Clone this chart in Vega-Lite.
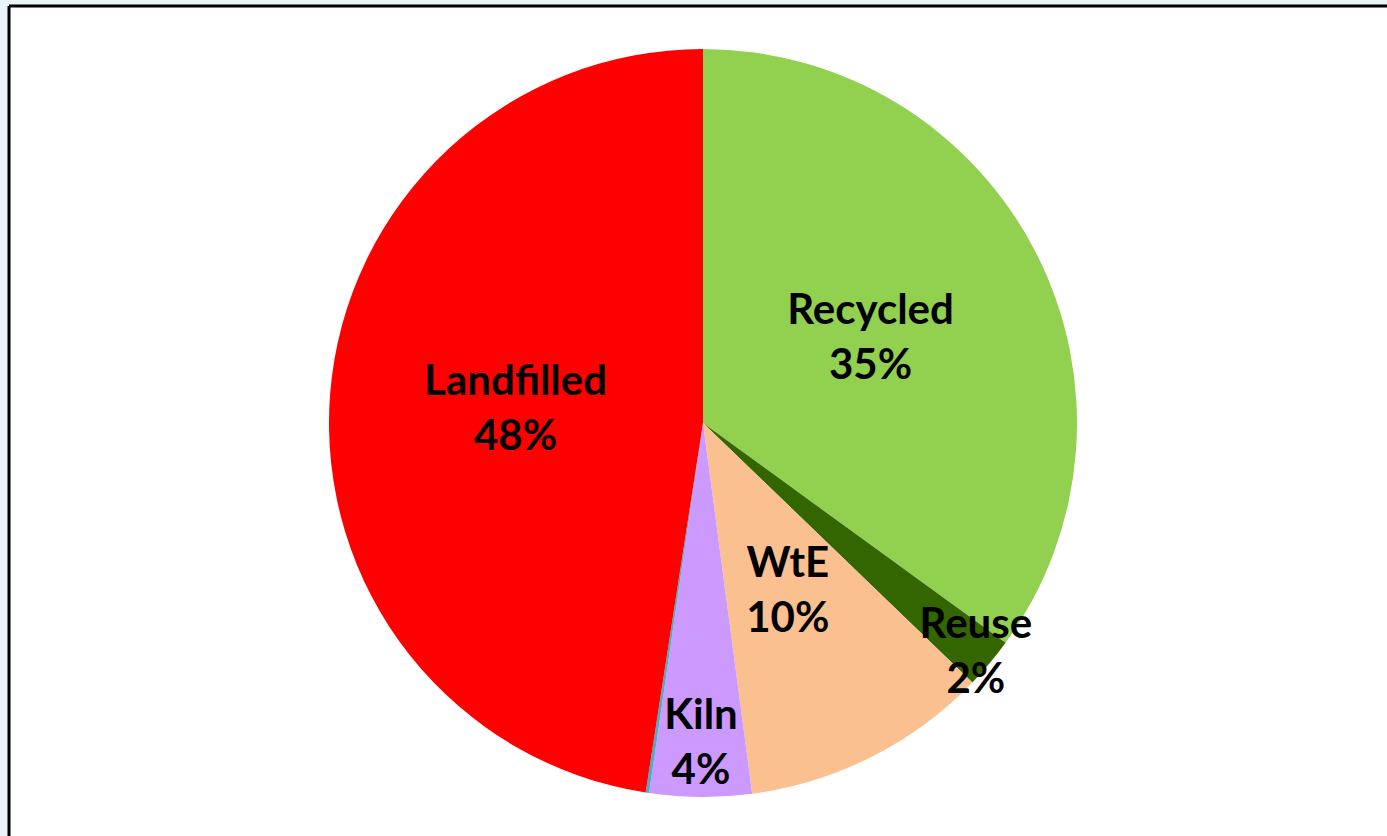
{
  "$schema": "https://vega.github.io/schema/vega-lite/v6.json",
  "width": 1388,
  "height": 834,
  "autosize": {"type": "none"},
  "padding": {"left": 9, "top": 6, "right": -10, "bottom": -4},
  "background": "#eaf3f8",
  "config": {
    "view": {"stroke": null}
  },
  "datasets": {
    "shares": [
      {"category": "Recycled", "value": 35.0, "label": "Recycled\n35%", "order": 1},
      {"category": "Reuse", "value": 2.2, "label": "Reuse\n2%", "order": 2},
      {"category": "WtE", "value": 10.7, "label": "WtE\n10%", "order": 3},
      {"category": "Kiln", "value": 4.4, "label": "Kiln\n4%", "order": 4},
      {"category": "Other", "value": 0.15, "label": "", "order": 5},
      {"category": "Landfilled", "value": 47.55, "label": "Landfilled\n48%", "order": 6}
    ],
    "frame": [{"name": "frame"}]
  },
  "layer": [
    {
      "data": {"name": "frame"},
      "mark": {"type": "rect", "fill": "#ffffff", "strokeWidth": 0},
      "encoding": {
        "x": {"value": 0},
        "x2": {"value": "width"},
        "y": {"value": 0},
        "y2": {"value": "height"}
      }
    },
    {
      "data": {"name": "frame"},
      "mark": {"type": "rule", "color": "#000000", "strokeWidth": 3},
      "encoding": {
        "x": {"value": 0},
        "y": {"value": 0},
        "y2": {"value": "height"}
      }
    },
    {
      "data": {"name": "frame"},
      "mark": {"type": "rule", "color": "#000000", "strokeWidth": 3},
      "encoding": {
        "x": {"value": 0},
        "x2": {"value": "width"},
        "y": {"value": 0}
      }
    },
    {
      "data": {"name": "shares"},
      "mark": {"type": "arc", "radius": 374},
      "encoding": {
        "theta": {"field": "value", "type": "quantitative", "stack": true},
        "order": {"field": "order", "type": "quantitative"},
        "color": {
          "field": "category",
          "type": "nominal",
          "scale": {
            "domain": ["Recycled", "Reuse", "WtE", "Kiln", "Other", "Landfilled"],
            "range": ["#92d050", "#336600", "#fac090", "#cc99ff", "#4bacc6", "#ff0000"]
          },
          "legend": null
        }
      }
    },
    {
      "data": {"name": "shares"},
      "mark": {"type": "text", "radius": 188, "dy": -27, "font": "Lato", "fontWeight": "bold", "fontSize": 42, "lineBreak": "\n", "lineHeight": 55, "align": "center", "baseline": "middle", "color": "#000000"},
      "encoding": {
        "theta": {"field": "value", "type": "quantitative", "stack": true},
        "order": {"field": "order", "type": "quantitative"},
        "text": {"condition": {"test": "datum.category === 'Recycled' || datum.category === 'Landfilled' || datum.category === 'WtE'", "field": "label"}, "value": ""}
      }
    },
    {
      "data": {"name": "shares"},
      "mark": {"type": "text", "radius": 320, "dy": -27, "font": "Lato", "fontWeight": "bold", "fontSize": 42, "lineBreak": "\n", "lineHeight": 55, "align": "center", "baseline": "middle", "color": "#000000"},
      "encoding": {
        "theta": {"field": "value", "type": "quantitative", "stack": true},
        "order": {"field": "order", "type": "quantitative"},
        "text": {"condition": {"test": "datum.category === 'Kiln'", "field": "label"}, "value": ""}
      }
    },
    {
      "data": {"name": "shares"},
      "mark": {"type": "text", "radius": 356, "dy": -27, "font": "Lato", "fontWeight": "bold", "fontSize": 42, "lineBreak": "\n", "lineHeight": 55, "align": "center", "baseline": "middle", "color": "#000000"},
      "encoding": {
        "theta": {"field": "value", "type": "quantitative", "stack": true},
        "order": {"field": "order", "type": "quantitative"},
        "text": {"condition": {"test": "datum.category === 'Reuse'", "field": "label"}, "value": ""}
      }
    }
  ]
}
